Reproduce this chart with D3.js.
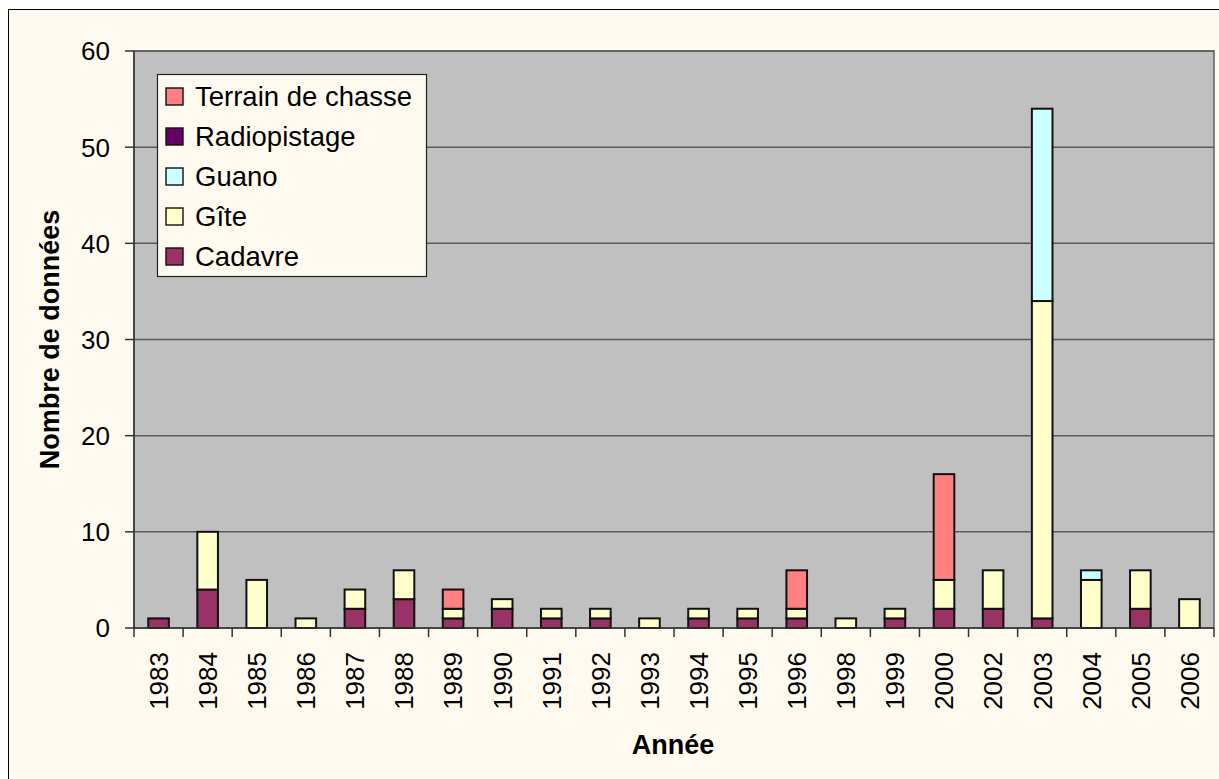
<!DOCTYPE html>
<html>
<head>
<meta charset="utf-8">
<script src="https://cdn.jsdelivr.net/npm/d3@7"></script>
<style>
  body { margin: 0; background: #fff; }
  text { font-family: Arial, "Liberation Sans", sans-serif; }
</style>
</head>
<body>
<svg width="1219" height="779"></svg>
<script>
const years = ['1983', '1984', '1985', '1986', '1987', '1988', '1989', '1990', '1991', '1992', '1993',
  '1994', '1995', '1996', '1998', '1999', '2000', '2002', '2003', '2004', '2005', '2006'];
const cadavre = [1, 4, 0, 0, 2, 3, 1, 2, 1, 1, 0, 1, 1, 1, 0, 1, 2, 2, 1, 0, 2, 0];
const gite = [0, 6, 5, 1, 2, 3, 1, 1, 1, 1, 1, 1, 1, 1, 1, 1, 3, 4, 33, 5, 4, 3];
const guano = [0, 0, 0, 0, 0, 0, 0, 0, 0, 0, 0, 0, 0, 0, 0, 0, 0, 0, 20, 1, 0, 0];
const radiopistage = [0, 0, 0, 0, 0, 0, 0, 0, 0, 0, 0, 0, 0, 0, 0, 0, 0, 0, 0, 0, 0, 0];
const terrain = [0, 0, 0, 0, 0, 0, 2, 0, 0, 0, 0, 0, 0, 4, 0, 0, 11, 0, 0, 0, 0, 0];
const seriesNames = ['Cadavre', 'Gîte', 'Guano', 'Radiopistage', 'Terrain de chasse'];
const seriesColors = ['#993366', '#FFFFCC', '#CCFFFF', '#660066', '#FF8080'];
const yTicks = [0, 10, 20, 30, 40, 50, 60];

const rows = years.map((y, i) => ({
  year: y,
  'Cadavre': cadavre[i],
  'Gîte': gite[i],
  'Guano': guano[i],
  'Radiopistage': radiopistage[i],
  'Terrain de chasse': terrain[i]
}));

const svg = d3.select('svg');
const plotLeft = 134, plotRight = 1214, plotTop = 51, plotBottom = 628;

// chart background
svg.append('rect')
  .attr('x', 8.5).attr('y', 9.5)
  .attr('width', 1230).attr('height', 790)
  .attr('fill', '#FFFAF0')
  .attr('stroke', '#000').attr('stroke-width', 1);

const x = d3.scaleBand().domain(years).range([plotLeft, plotRight]).paddingInner(0.58).paddingOuter(0.29);
const xEdge = d3.scaleBand().domain(years).range([plotLeft, plotRight]);
const y = d3.scaleLinear().domain([0, 60]).range([plotBottom, plotTop]);

// plot area
svg.append('rect')
  .attr('x', plotLeft).attr('y', plotTop)
  .attr('width', plotRight - plotLeft).attr('height', plotBottom - plotTop)
  .attr('fill', '#C0C0C0')
  .attr('stroke', '#606060').attr('stroke-width', 1.5);

svg.append('g')
  .selectAll('line')
  .data(yTicks.filter((t) => t > 0))
  .enter()
  .append('line')
  .attr('x1', plotLeft).attr('x2', plotRight)
  .attr('y1', (d) => y(d)).attr('y2', (d) => y(d))
  .attr('stroke', '#5a5a5a').attr('stroke-width', 1.5);

const stack = d3.stack().keys(seriesNames);
const stacked = stack(rows);

svg.append('g')
  .selectAll('g')
  .data(stacked)
  .enter()
  .append('g')
  .attr('fill', (d, i) => seriesColors[i])
  .selectAll('rect')
  .data((d) => d.filter((p) => p[1] > p[0]))
  .enter()
  .append('rect')
  .attr('x', (p) => x(p.data.year))
  .attr('width', x.bandwidth())
  .attr('y', (p) => y(p[1]))
  .attr('height', (p) => y(p[0]) - y(p[1]))
  .attr('stroke', '#111')
  .attr('stroke-width', 2);

// y axis
const yAxis = svg.append('g');
yAxis.append('line')
  .attr('x1', plotLeft).attr('x2', plotLeft).attr('y1', plotTop).attr('y2', plotBottom)
  .attr('stroke', '#333').attr('stroke-width', 1.5);
yAxis.selectAll('line.tick')
  .data(yTicks)
  .enter()
  .append('line')
  .attr('class', 'tick')
  .attr('x1', plotLeft - 9).attr('x2', plotLeft)
  .attr('y1', (d) => y(d)).attr('y2', (d) => y(d))
  .attr('stroke', '#333').attr('stroke-width', 1.5);
yAxis.selectAll('text')
  .data(yTicks)
  .enter()
  .append('text')
  .attr('x', 110)
  .attr('y', (d) => y(d))
  .attr('dy', '0.36em')
  .attr('text-anchor', 'end')
  .attr('font-size', 26)
  .text((d) => d);

// x axis
const xAxis = svg.append('g');
xAxis.append('line')
  .attr('x1', plotLeft).attr('x2', plotRight).attr('y1', plotBottom).attr('y2', plotBottom)
  .attr('stroke', '#333').attr('stroke-width', 1.5);
xAxis.selectAll('line.tick')
  .data(years.map((yr) => xEdge(yr)).concat([plotRight]))
  .enter()
  .append('line')
  .attr('class', 'tick')
  .attr('x1', (d) => d).attr('x2', (d) => d)
  .attr('y1', plotBottom).attr('y2', plotBottom + 9)
  .attr('stroke', '#333').attr('stroke-width', 1.5);
xAxis.selectAll('text')
  .data(years)
  .enter()
  .append('text')
  .attr('transform', (d) => `translate(${xEdge(d) + xEdge.bandwidth() / 2},652) rotate(-90)`)
  .attr('dy', '0.36em')
  .attr('text-anchor', 'end')
  .attr('font-size', 26)
  .text((d) => d);

// titles
svg.append('text')
  .attr('x', 673).attr('y', 754)
  .attr('text-anchor', 'middle')
  .attr('font-size', 27).attr('font-weight', 'bold')
  .text('Année');
svg.append('text')
  .attr('transform', `translate(59,${(plotTop + plotBottom) / 2}) rotate(-90)`)
  .attr('text-anchor', 'middle')
  .attr('font-size', 27).attr('font-weight', 'bold')
  .text('Nombre de données');

// legend
const legend = svg.append('g');
legend.append('rect')
  .attr('x', 157.5).attr('y', 74.5)
  .attr('width', 269).attr('height', 202)
  .attr('fill', '#FFFAF0')
  .attr('stroke', '#222').attr('stroke-width', 1.2);
const legendItems = seriesNames.slice().reverse();
legendItems.forEach((name, i) => {
  const cy = 96 + i * 40;
  legend.append('rect')
    .attr('x', 166).attr('y', cy - 8)
    .attr('width', 17).attr('height', 17)
    .attr('fill', seriesColors[seriesNames.indexOf(name)])
    .attr('stroke', '#111').attr('stroke-width', 1.4);
  legend.append('text')
    .attr('x', 195).attr('y', cy)
    .attr('dy', '0.36em')
    .attr('font-size', 27.5)
    .text(name);
});
</script>
</body>
</html>
